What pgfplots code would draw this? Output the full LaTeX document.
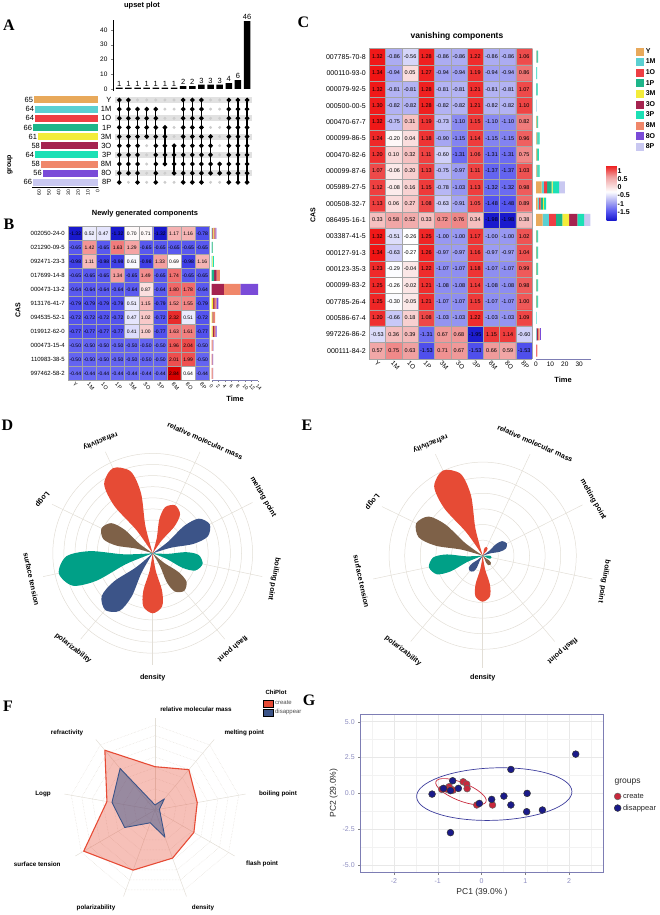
\documentclass[border=0pt]{standalone}
\usepackage{fontspec}
\setmainfont{Liberation Sans}
\newfontfamily\lserif{Liberation Serif}
\usepackage{pgfplots}
\usepackage{pgfplotstable}
\pgfplotsset{compat=1.18}
\usepgfplotslibrary{polar}
\pgfkeys{/pgf/number format/assume math mode=true}

\definecolor{gY}{RGB}{232,169,91}
\definecolor{g1M}{RGB}{91,208,210}
\definecolor{g1O}{RGB}{238,62,68}
\definecolor{g1P}{RGB}{29,181,138}
\definecolor{g3M}{RGB}{243,236,58}
\definecolor{g3O}{RGB}{165,35,79}
\definecolor{g3P}{RGB}{28,224,181}
\definecolor{g8M}{RGB}{240,135,106}
\definecolor{g8O}{RGB}{122,75,216}
\definecolor{g8P}{RGB}{201,200,241}
\definecolor{nred}{RGB}{230,75,53}
\definecolor{nblue}{RGB}{60,84,136}
\definecolor{ngreen}{RGB}{0,160,135}
\definecolor{nbrown}{RGB}{126,97,72}
\definecolor{ringc}{RGB}{226,222,214}
\definecolor{crim}{RGB}{200,40,60}
\definecolor{navy}{RGB}{26,26,138}
\definecolor{frame}{RGB}{125,125,180}
\definecolor{cellgrid}{RGB}{165,165,165}
\definecolor{stripe}{RGB}{225,225,225}

\newcommand\fs[1]{\fontsize{#1}{#1}\selectfont}
\newcommand\panel[1]{{\lserif\bfseries\fs{16}#1}}

\pgfplotsset{
  colormap={hmB}{rgb255(0cm)=(25,25,205) rgb255(4cm)=(70,70,235) rgb255(9cm)=(105,105,242) rgb255(20cm)=(255,255,255) rgb255(25cm)=(245,180,180) rgb255(31cm)=(240,110,110) rgb255(36cm)=(235,50,50) rgb255(42cm)=(215,0,0)},
  colormap={hmC}{rgb255(0cm)=(25,25,205) rgb255(5cm)=(85,85,240) rgb255(11cm)=(170,170,242) rgb255(17cm)=(255,255,255) rgb255(26cm)=(240,160,160) rgb255(31cm)=(238,60,60) rgb255(33cm)=(240,20,20)},
  hmheat/.style={scale only axis, enlargelimits=false, y dir=reverse,
    xmin=-0.5, xmax=9.5, xtick={0,...,9}, xticklabels={Y,1M,1O,1P,3M,3O,3P,8M,8O,8P},
    minor xtick={-0.5,0.5,...,9.5}, xminorgrids, yminorgrids,
    minor grid style={cellgrid, line width=0.5pt},
    major tick length=0pt, minor tick length=0pt, axis line style={draw=none}, axis on top,
    xticklabel style={rotate=-45, anchor=north west, inner sep=1pt}},
  hmcells/.style={matrix plot*, mesh/cols=10, point meta=explicit,
    nodes near coords={\pgfmathprintnumber[fixed,fixed zerofill,precision=2]{\pgfplotspointmeta}},
    every node near coord/.append style={anchor=center, font=\fs{#1}, black, inner sep=0pt}},
  sqlegend/.style={legend image code/.code={\fill[##1] (0pt,-4pt) rectangle (8pt,4pt);}},
  boxlegend/.style={legend image code/.code={\fill[##1] (0pt,-3.5pt) rectangle (10pt,3.5pt);}},
  setbar/.style={fill=#1, draw=none, bar shift=0pt},
  upcol/.style={black, line width=1.3pt, mark=*, mark size=1.6pt, forget plot},
  rose/.style={scale only axis, ymin=0, clip=false, axis line style={draw=none},
    xtick=\empty, ytick=\empty},
  spoke/.style={draw=ringc, line width=0.5pt, forget plot},
}

\pgfplotstableread{
r cY c1M c1O c1P c3M c3O c3P c8M c8O c8P
0 0 0.2 0.2 0 0.2 0.2 0 0.3 0.3 0
1 0 0.1 0 0.15 0.1 0 0 0 0 0
2 0 0.15 0 0 0.1 0 0.15 0.1 0 0.15
3 0 0 0 0.7 0 0.8 0 1.0 0 0
4 0 0 0 0 0 3.7 0 5.0 5.3 0
5 0 0 0 0 0.4 0.5 0 0.5 0.6 0
6 0 0 0 0 0.2 0.3 0 0.5 0 0
7 0 0 0 0 0.3 0.4 0 0.4 0.4 0
8 0 0 0 0 0 0 0 0.25 0.25 0
9 0 0 0 0 0 0 0 0.2 0.2 0
10 0 0 0 0 0 0 0 0.3 0.1 0
}\tblB

\pgfplotstableread{
r cY c1M c1O c1P c3M c3O c3P c8M c8O c8P
0 0.3 0.4 0 0.4 0 0 0.4 0 0 0
1 0 0.3 0 0 0 0 0.4 0 0 0
2 0 0.3 0 0.4 0 0 0.5 0 0 0
3 0 0.2 0 0 0 0 0 0 0 0.3
4 0.4 0 0 0.5 0 0 0.6 0 0 0
5 0.5 0.5 0 0.7 0 0 0.8 0 0 0
6 0.4 0 0 0.8 0 0 0.8 0 0 0
7 0.5 0.4 0 0.8 0 0 0.8 0 0 0
8 3.9 1.6 2.3 3.0 0.7 0 4.6 0 0 3.9
9 1.2 0.8 1.2 1.5 0.8 0 1.5 0 0 0
10 4.6 4.4 4.8 4.6 4.6 5.8 4.6 0 0 4.4
11 0.3 0 0 0.6 0 0 0.6 0 0 0
12 0.3 0 0 0.6 0 0 0.6 0 0 0
13 0.3 0 0 0.6 0 0 0.6 0 0 0
14 0.3 0 0 0.6 0 0 0.6 0 0 0
15 0.3 0 0 0.6 0 0 0.6 0 0 0
16 0 0.2 0 0 0 0 0.3 0 0 0
17 0 0.5 0 0 0 0.8 0 1.2 1.0 0
18 0 0 0.5 0 0 0 0 0.5 0 0
}\tblC

\begin{document}
\begin{tikzpicture}
\useasboundingbox (0,0) rectangle (660pt,-915pt);

% ---------------- A: upset plot ----------------
\begin{axis}[at={(113pt,-19.7pt)}, anchor=north west, scale only axis,
  width=140pt, height=71.5pt, xmin=0.31, xmax=15.65, ymin=-1.5, ymax=47,
  axis x line=none, axis y line*=left, ybar, bar width=6.6pt,
  ytick={0,10,...,40}, tick align=outside, major tick length=2pt,
  yticklabel style={font=\fs{6.5}}, clip=false,
  nodes near coords, every node near coord/.append style={font=\fs{7.5}, inner sep=1pt}]
\addplot[fill=black, draw=none, bar shift=0pt] coordinates {
  (1,1) (2,1) (3,1) (4,1) (5,1) (6,1) (7,1) (8,2) (9,2) (10,3) (11,3) (12,3) (13,4) (14,6) (15,46)};
\end{axis}

\begin{axis}[at={(32.3pt,-95.4pt)}, anchor=north west, scale only axis,
  width=65.4pt, height=91.5pt, xbar, bar width=7pt, x dir=reverse,
  xmin=0, xmax=67, ymin=0.5, ymax=10.5, y dir=reverse,
  axis y line=none, axis x line*=bottom, xtick={0,10,...,60},
  tick align=outside, major tick length=1.5pt,
  xticklabel style={rotate=90, anchor=east, font=\fs{5}, inner sep=1pt},
  clip=false, point meta=x, nodes near coords,
  every node near coord/.append style={anchor=east, font=\fs{7.5}, inner sep=1pt}]
\addplot[setbar=gY] coordinates {(65,1)};
\addplot[setbar=g1M] coordinates {(64,2)};
\addplot[setbar=g1O] coordinates {(64,3)};
\addplot[setbar=g1P] coordinates {(66,4)};
\addplot[setbar=g3M] coordinates {(61,5)};
\addplot[setbar=g3O] coordinates {(58,6)};
\addplot[setbar=g3P] coordinates {(64,7)};
\addplot[setbar=g8M] coordinates {(58,8)};
\addplot[setbar=g8O] coordinates {(56,9)};
\addplot[setbar=g8P] coordinates {(66,10)};
\end{axis}

\begin{axis}[at={(113pt,-95.4pt)}, anchor=north west, scale only axis,
  width=140pt, height=91.5pt, xmin=0.31, xmax=15.65, ymin=0.5, ymax=10.5, y dir=reverse,
  axis line style={draw=none}, xtick=\empty, ytick={1,...,10},
  yticklabels={Y,1M,1O,1P,3M,3O,3P,8M,8O,8P}, major tick length=0pt,
  yticklabel style={font=\fs{7.5}, inner sep=1.5pt}, clip=false]
\pgfplotsinvokeforeach{1,3,5,7,9}{
  \addplot[fill=stripe, draw=none, forget plot] coordinates {(0.53,#1-0.32) (15.53,#1-0.32) (15.53,#1+0.32) (0.53,#1+0.32)};}
\addplot[only marks, mark=*, mark size=1.3pt, color=black!20, forget plot] coordinates {
  (2,10) (3,1) (4,1) (4,6) (4,7) (4,8) (4,9) (4,10) (5,1)
  (6,1) (6,2) (6,3) (6,9) (6,10) (7,1) (7,2) (7,3) (7,4) (7,5) (7,10)
  (11,1) (11,2) (11,3) (11,4) (11,10)
  (12,1) (12,2) (12,3) (12,4) (12,5) (12,6) (12,7) (12,10)};
\pgfplotsinvokeforeach{1,8,9,10,13,14,15}{
  \addplot[upcol] coordinates {(#1,1) (#1,2) (#1,3) (#1,4) (#1,5) (#1,6) (#1,7) (#1,8) (#1,9) (#1,10)};}
\addplot[upcol] coordinates {(2,1) (2,2) (2,3) (2,4) (2,5) (2,6) (2,7) (2,8) (2,9)};
\addplot[upcol] coordinates {(3,2) (3,3) (3,4) (3,5) (3,6) (3,7) (3,8) (3,9) (3,10)};
\addplot[upcol] coordinates {(4,2) (4,3) (4,4) (4,5)};
\addplot[upcol] coordinates {(5,2) (5,3) (5,4) (5,5) (5,6) (5,7) (5,8) (5,9) (5,10)};
\addplot[upcol] coordinates {(6,4) (6,5) (6,6) (6,7) (6,8)};
\addplot[upcol] coordinates {(7,6) (7,7) (7,8) (7,9)};
\addplot[upcol] coordinates {(11,5) (11,6) (11,7) (11,8) (11,9)};
\addplot[upcol] coordinates {(12,8) (12,9)};
\end{axis}

% ---------------- B: newly generated ----------------
\begin{axis}[hmheat, at={(68.3pt,-226.3pt)}, anchor=north west,
  width=141pt, height=154.2pt, ymin=-0.5, ymax=10.5,
  minor ytick={-0.5,0.5,...,10.5},
  colormap name=hmB, point meta min=-1.32, point meta max=2.84,
  ytick={0,...,10},
  yticklabels={002050-24-0,021290-09-5,092471-23-3,017699-14-8,000473-13-2,913176-41-7,094535-52-1,019912-62-0,000473-15-4,110983-38-5,997462-58-2},
  yticklabel style={font=\fs{6}}, xticklabel style={font=\fs{5.5}}]
\addplot[hmcells=5] table[meta=v, row sep=\\] {
x y v\\
0 0 -1.32\\ 1 0 0.52\\ 2 0 0.47\\ 3 0 -1.32\\ 4 0 0.70\\ 5 0 0.71\\ 6 0 -1.32\\ 7 0 1.17\\ 8 0 1.16\\ 9 0 -0.78\\
0 1 -0.65\\ 1 1 1.42\\ 2 1 -0.65\\ 3 1 1.63\\ 4 1 1.29\\ 5 1 -0.65\\ 6 1 -0.65\\ 7 1 -0.65\\ 8 1 -0.65\\ 9 1 -0.65\\
0 2 -0.98\\ 1 2 1.11\\ 2 2 -0.98\\ 3 2 -0.98\\ 4 2 0.61\\ 5 2 -0.98\\ 6 2 1.33\\ 7 2 0.69\\ 8 2 -0.98\\ 9 2 1.16\\
0 3 -0.65\\ 1 3 -0.65\\ 2 3 -0.65\\ 3 3 1.34\\ 4 3 -0.65\\ 5 3 1.49\\ 6 3 -0.65\\ 7 3 1.74\\ 8 3 -0.65\\ 9 3 -0.65\\
0 4 -0.64\\ 1 4 -0.64\\ 2 4 -0.64\\ 3 4 -0.64\\ 4 4 -0.64\\ 5 4 0.87\\ 6 4 -0.64\\ 7 4 1.80\\ 8 4 1.78\\ 9 4 -0.64\\
0 5 -0.79\\ 1 5 -0.79\\ 2 5 -0.79\\ 3 5 -0.79\\ 4 5 0.51\\ 5 5 1.15\\ 6 5 -0.79\\ 7 5 1.52\\ 8 5 1.55\\ 9 5 -0.79\\
0 6 -0.72\\ 1 6 -0.72\\ 2 6 -0.72\\ 3 6 -0.72\\ 4 6 0.47\\ 5 6 1.02\\ 6 6 -0.72\\ 7 6 2.32\\ 8 6 0.51\\ 9 6 -0.72\\
0 7 -0.77\\ 1 7 -0.77\\ 2 7 -0.77\\ 3 7 -0.77\\ 4 7 0.41\\ 5 7 1.00\\ 6 7 -0.77\\ 7 7 1.63\\ 8 7 1.61\\ 9 7 -0.77\\
0 8 -0.50\\ 1 8 -0.50\\ 2 8 -0.50\\ 3 8 -0.50\\ 4 8 -0.50\\ 5 8 -0.50\\ 6 8 -0.50\\ 7 8 1.96\\ 8 8 2.04\\ 9 8 -0.50\\
0 9 -0.50\\ 1 9 -0.50\\ 2 9 -0.50\\ 3 9 -0.50\\ 4 9 -0.50\\ 5 9 -0.50\\ 6 9 -0.50\\ 7 9 2.01\\ 8 9 1.99\\ 9 9 -0.50\\
0 10 -0.44\\ 1 10 -0.44\\ 2 10 -0.44\\ 3 10 -0.44\\ 4 10 -0.44\\ 5 10 -0.44\\ 6 10 -0.44\\ 7 10 2.84\\ 8 10 0.64\\ 9 10 -0.44\\
};
\end{axis}

\begin{axis}[at={(211.7pt,-226.3pt)}, anchor=north west, scale only axis,
  width=46.3pt, height=154.2pt, xbar stacked, bar width=11pt,
  xmin=0, xmax=14, ymin=-0.5, ymax=10.5, y dir=reverse,
  axis y line=none, axis x line*=bottom, axis line style={frame},
  xtick={0,2,...,14}, ytick=\empty, tick align=outside, major tick length=1.5pt,
  xticklabel style={rotate=-45, anchor=north west, font=\fs{5}, inner sep=1pt}]
\addplot[fill=gY, draw=none] table[x=cY, y=r] {\tblB};
\addplot[fill=g1M, draw=none] table[x=c1M, y=r] {\tblB};
\addplot[fill=g1O, draw=none] table[x=c1O, y=r] {\tblB};
\addplot[fill=g1P, draw=none] table[x=c1P, y=r] {\tblB};
\addplot[fill=g3M, draw=none] table[x=c3M, y=r] {\tblB};
\addplot[fill=g3O, draw=none] table[x=c3O, y=r] {\tblB};
\addplot[fill=g3P, draw=none] table[x=c3P, y=r] {\tblB};
\addplot[fill=g8M, draw=none] table[x=c8M, y=r] {\tblB};
\addplot[fill=g8O, draw=none] table[x=c8O, y=r] {\tblB};
\addplot[fill=g8P, draw=none] table[x=c8P, y=r] {\tblB};
\end{axis}

% ---------------- C: vanishing ----------------
\begin{axis}[hmheat, at={(369.3pt,-48.5pt)}, anchor=north west,
  width=163pt, height=310.3pt, ymin=-0.5, ymax=18.5,
  minor ytick={-0.5,0.5,...,18.5},
  colormap name=hmC, point meta min=-1.98, point meta max=1.34,
  ytick={0,...,18},
  yticklabels={007785-70-8,000110-93-0,000079-92-5,000500-00-5,000470-67-7,000099-86-5,000470-82-6,000099-87-6,005989-27-5,000508-32-7,086495-16-1,003387-41-5,000127-91-3,000123-35-3,000099-83-2,007785-26-4,000586-67-4,997226-86-2,000111-84-2},
  yticklabel style={font=\fs{7}}, xticklabel style={font=\fs{6.5}},
  colorbar, colorbar style={at={(parent axis.north east)}, anchor=north west,
    xshift=65.7pt, yshift=-116.5pt, scale only axis, width=10pt, height=55pt,
    ytick={-1.5,-1,-0.5,0,0.5,1}, yticklabel style={font=\fs{7}\bfseries, inner sep=1pt},
    axis line style={draw=none}, major tick length=0pt}]
\addplot[hmcells=5.5] table[meta=v, row sep=\\] {
x y v\\
0 0 1.32\\ 1 0 -0.86\\ 2 0 -0.56\\ 3 0 1.28\\ 4 0 -0.86\\ 5 0 -0.86\\ 6 0 1.22\\ 7 0 -0.86\\ 8 0 -0.86\\ 9 0 1.06\\
0 1 1.34\\ 1 1 -0.94\\ 2 1 0.05\\ 3 1 1.27\\ 4 1 -0.94\\ 5 1 -0.94\\ 6 1 1.19\\ 7 1 -0.94\\ 8 1 -0.94\\ 9 1 0.86\\
0 2 1.32\\ 1 2 -0.81\\ 2 2 -0.81\\ 3 2 1.28\\ 4 2 -0.81\\ 5 2 -0.81\\ 6 2 1.21\\ 7 2 -0.81\\ 8 2 -0.81\\ 9 2 1.07\\
0 3 1.30\\ 1 3 -0.82\\ 2 3 -0.82\\ 3 3 1.28\\ 4 3 -0.82\\ 5 3 -0.82\\ 6 3 1.21\\ 7 3 -0.82\\ 8 3 -0.82\\ 9 3 1.10\\
0 4 1.32\\ 1 4 -0.75\\ 2 4 0.31\\ 3 4 1.19\\ 4 4 -0.73\\ 5 4 -1.10\\ 6 4 1.15\\ 7 4 -1.10\\ 8 4 -1.10\\ 9 4 0.82\\
0 5 1.24\\ 1 5 -0.20\\ 2 5 0.04\\ 3 5 1.18\\ 4 5 -0.90\\ 5 5 -1.15\\ 6 5 1.14\\ 7 5 -1.15\\ 8 5 -1.15\\ 9 5 0.96\\
0 6 1.20\\ 1 6 0.10\\ 2 6 0.32\\ 3 6 1.11\\ 4 6 -0.60\\ 5 6 -1.31\\ 6 6 1.06\\ 7 6 -1.31\\ 8 6 -1.31\\ 9 6 0.75\\
0 7 1.07\\ 1 7 -0.06\\ 2 7 0.20\\ 3 7 1.13\\ 4 7 -0.75\\ 5 7 -0.97\\ 6 7 1.11\\ 7 7 -1.37\\ 8 7 -1.37\\ 9 7 1.03\\
0 8 1.12\\ 1 8 -0.08\\ 2 8 0.16\\ 3 8 1.15\\ 4 8 -0.78\\ 5 8 -1.03\\ 6 8 1.13\\ 7 8 -1.32\\ 8 8 -1.32\\ 9 8 0.98\\
0 9 1.13\\ 1 9 0.06\\ 2 9 0.27\\ 3 9 1.08\\ 4 9 -0.63\\ 5 9 -0.91\\ 6 9 1.05\\ 7 9 -1.48\\ 8 9 -1.48\\ 9 9 0.89\\
0 10 0.33\\ 1 10 0.58\\ 2 10 0.52\\ 3 10 0.33\\ 4 10 0.72\\ 5 10 0.76\\ 6 10 0.34\\ 7 10 -1.98\\ 8 10 -1.98\\ 9 10 0.38\\
0 11 1.32\\ 1 11 -0.51\\ 2 11 -0.26\\ 3 11 1.25\\ 4 11 -1.00\\ 5 11 -1.00\\ 6 11 1.17\\ 7 11 -1.00\\ 8 11 -1.00\\ 9 11 1.02\\
0 12 1.34\\ 1 12 -0.63\\ 2 12 -0.27\\ 3 12 1.26\\ 4 12 -0.97\\ 5 12 -0.97\\ 6 12 1.16\\ 7 12 -0.97\\ 8 12 -0.97\\ 9 12 1.04\\
0 13 1.23\\ 1 13 -0.29\\ 2 13 -0.04\\ 3 13 1.22\\ 4 13 -1.07\\ 5 13 -1.07\\ 6 13 1.18\\ 7 13 -1.07\\ 8 13 -1.07\\ 9 13 0.99\\
0 14 1.25\\ 1 14 -0.26\\ 2 14 -0.02\\ 3 14 1.21\\ 4 14 -1.08\\ 5 14 -1.08\\ 6 14 1.14\\ 7 14 -1.08\\ 8 14 -1.08\\ 9 14 0.98\\
0 15 1.25\\ 1 15 -0.30\\ 2 15 -0.05\\ 3 15 1.21\\ 4 15 -1.07\\ 5 15 -1.07\\ 6 15 1.15\\ 7 15 -1.07\\ 8 15 -1.07\\ 9 15 1.00\\
0 16 1.20\\ 1 16 -0.66\\ 2 16 0.18\\ 3 16 1.08\\ 4 16 -1.03\\ 5 16 -1.03\\ 6 16 1.22\\ 7 16 -1.03\\ 8 16 -1.03\\ 9 16 1.09\\
0 17 -0.53\\ 1 17 0.36\\ 2 17 0.39\\ 3 17 -1.31\\ 4 17 0.67\\ 5 17 0.68\\ 6 17 -1.95\\ 7 17 1.15\\ 8 17 1.14\\ 9 17 -0.60\\
0 18 0.57\\ 1 18 0.75\\ 2 18 0.63\\ 3 18 -1.53\\ 4 18 0.71\\ 5 18 0.67\\ 6 18 -1.53\\ 7 18 0.66\\ 8 18 0.59\\ 9 18 -1.53\\
};
\end{axis}

\begin{axis}[at={(536pt,-48.5pt)}, anchor=north west, scale only axis,
  width=54.7pt, height=310.3pt, xbar stacked, bar width=12pt,
  xmin=0, xmax=38, ymin=-0.5, ymax=18.5, y dir=reverse,
  axis y line=none, axis x line*=bottom, axis line style={frame},
  xtick={0,10,20,30}, ytick=\empty, tick align=outside, major tick length=1.5pt,
  xticklabel style={font=\fs{6.5}, inner sep=1pt},
  legend style={at={(1.83,1.005)}, anchor=north west, draw=none, fill=none,
    font=\fs{7}\bfseries, row sep=1.2pt, inner sep=0pt, nodes={inner sep=1.5pt}},
  legend cell align=left]
\addplot[fill=gY, draw=none, sqlegend] table[x=cY, y=r] {\tblC};
\addplot[fill=g1M, draw=none, sqlegend] table[x=c1M, y=r] {\tblC};
\addplot[fill=g1O, draw=none, sqlegend] table[x=c1O, y=r] {\tblC};
\addplot[fill=g1P, draw=none, sqlegend] table[x=c1P, y=r] {\tblC};
\addplot[fill=g3M, draw=none, sqlegend] table[x=c3M, y=r] {\tblC};
\addplot[fill=g3O, draw=none, sqlegend] table[x=c3O, y=r] {\tblC};
\addplot[fill=g3P, draw=none, sqlegend] table[x=c3P, y=r] {\tblC};
\addplot[fill=g8M, draw=none, sqlegend] table[x=c8M, y=r] {\tblC};
\addplot[fill=g8O, draw=none, sqlegend] table[x=c8O, y=r] {\tblC};
\addplot[fill=g8P, draw=none, sqlegend] table[x=c8P, y=r] {\tblC};
\legend{Y,1M,1O,1P,3M,3O,3P,8M,8O,8P}
\end{axis}

% ---------------- D: rose ----------------
\begin{polaraxis}[rose, at={(152.7pt,-553.3pt)}, anchor=center,
  width=224pt, height=224pt, ymax=112]
\pgfplotsinvokeforeach{11.1,22.2,33.3,44.4,55.5,66.6,77.7,88.8,99.9}{
  \draw[ringc, line width=0.5pt] (axis cs:0,0) circle [radius=#1pt];}
\pgfplotsinvokeforeach{115,65,27,348,310,270,230,192,154}{
  \addplot[spoke] coordinates {(#1,0) (#1,112)};}
\addplot[fill=nred, draw=none, smooth] coordinates {(115,0) (105,28.2) (101,61.1) (105,84.6) (115,94) (125,84.6) (129,61.1) (125,28.2) (115,0)};
\addplot[fill=nred, draw=none, smooth] coordinates {(65,0) (55,15.9) (51,34.5) (55,47.7) (65,53) (75,47.7) (79,34.5) (75,15.9) (65,0)};
\addplot[fill=nblue, draw=none, smooth] coordinates {(27,0) (17,19.2) (13,41.6) (17,57.6) (27,64) (37,57.6) (41,41.6) (37,19.2) (27,0)};
\addplot[fill=ngreen, draw=none, smooth] coordinates {(348,0) (338,15.3) (334,33.2) (338,45.9) (348,51) (358,45.9) (362,33.2) (358,15.3) (348,0)};
\addplot[fill=nbrown, draw=none, smooth] coordinates {(310,0) (300,14.7) (296,31.9) (300,44.1) (310,49) (320,44.1) (324,31.9) (320,14.7) (310,0)};
\addplot[fill=nred, draw=none, smooth] coordinates {(270,0) (260,18) (256,39) (260,54) (270,60) (280,54) (284,39) (280,18) (270,0)};
\addplot[fill=nblue, draw=none, smooth] coordinates {(230,0) (220,22.2) (216,48.1) (220,66.6) (230,74) (240,66.6) (244,48.1) (240,22.2) (230,0)};
\addplot[fill=ngreen, draw=none, smooth] coordinates {(192,0) (182,28.8) (178,62.4) (182,86.4) (192,96) (202,86.4) (206,62.4) (202,28.8) (192,0)};
\addplot[fill=nbrown, draw=none, smooth] coordinates {(154,0) (144,17.1) (140,37.1) (144,51.3) (154,57) (164,51.3) (168,37.1) (164,17.1) (154,0)};
\begin{scope}[every node/.style={font=\fs{7.2}\bfseries}]
\node[rotate=-24] at (axis cs:65,124) {relative molecular mass};
\node[rotate=-60] at (axis cs:27,124) {melting point};
\node[rotate=-100] at (axis cs:348,124) {boiling point};
\node[rotate=220] at (axis cs:310,124) {flash point};
\node at (axis cs:270,124) {density};
\node[rotate=-38] at (axis cs:230,124) {polarizability};
\node[rotate=-78] at (axis cs:192,124) {surface tension};
\node[rotate=230] at (axis cs:154,123) {Logp};
\node[rotate=203] at (axis cs:115,124) {refractivity};
\end{scope}
\end{polaraxis}

% ---------------- E: rose ----------------
\begin{polaraxis}[rose, at={(482.7pt,-555.7pt)}, anchor=center,
  width=224pt, height=224pt, ymax=112]
\pgfplotsinvokeforeach{15.6,31.2,46.8,62.4,78,93.6}{
  \draw[ringc, line width=0.5pt] (axis cs:0,0) circle [radius=#1pt];}
\pgfplotsinvokeforeach{115,65,27,348,310,270,230,192,154}{
  \addplot[spoke] coordinates {(#1,0) (#1,112)};}
\addplot[fill=nred, draw=none, smooth] coordinates {(115,0) (105,28.2) (101,61.1) (105,84.6) (115,94) (125,84.6) (129,61.1) (125,28.2) (115,0)};
\addplot[fill=nred, draw=none, smooth] coordinates {(65,0) (55,2.9) (51,6.2) (55,8.6) (65,9.5) (75,8.6) (79,6.2) (75,2.9) (65,0)};
\addplot[fill=nblue, draw=none, smooth] coordinates {(27,0) (17,8.1) (13,17.6) (17,24.3) (27,27) (37,24.3) (41,17.6) (37,8.1) (27,0)};
\addplot[fill=ngreen, draw=none, smooth] coordinates {(348,0) (338,2.7) (334,5.9) (338,8.1) (348,9) (358,8.1) (362,5.9) (358,2.7) (348,0)};
\addplot[fill=nbrown, draw=none, smooth] coordinates {(310,0) (300,3.6) (296,7.8) (300,10.8) (310,12) (320,10.8) (324,7.8) (320,3.6) (310,0)};
\addplot[fill=nred, draw=none, smooth] coordinates {(270,0) (260,13.8) (256,29.9) (260,41.4) (270,46) (280,41.4) (284,29.9) (280,13.8) (270,0)};
\addplot[fill=nblue, draw=none, smooth] coordinates {(230,0) (220,6) (216,13) (220,18) (230,20) (240,18) (244,13) (240,6) (230,0)};
\addplot[fill=ngreen, draw=none, smooth] coordinates {(192,0) (182,16.5) (178,35.8) (182,49.5) (192,55) (202,49.5) (206,35.8) (202,16.5) (192,0)};
\addplot[fill=nbrown, draw=none, smooth] coordinates {(154,0) (144,22.2) (140,48.1) (144,66.6) (154,74) (164,66.6) (168,48.1) (164,22.2) (154,0)};
\begin{scope}[every node/.style={font=\fs{7.2}\bfseries}]
\node[rotate=-24] at (axis cs:65,124) {relative molecular mass};
\node[rotate=-60] at (axis cs:27,124) {melting point};
\node[rotate=-100] at (axis cs:348,124) {boiling point};
\node[rotate=220] at (axis cs:310,124) {flash point};
\node at (axis cs:270,121.5) {density};
\node[rotate=-38] at (axis cs:230,124) {polarizability};
\node[rotate=-78] at (axis cs:192,124) {surface tension};
\node[rotate=230] at (axis cs:154,123) {Logp};
\node[rotate=203] at (axis cs:115,124) {refractivity};
\end{scope}
\end{polaraxis}

% ---------------- F: radar ----------------
\begin{polaraxis}[rose, at={(155pt,-810pt)}, anchor=center,
  width=184pt, height=184pt, ymax=92,
  legend style={at={(1.087,1.103)}, anchor=north west, draw=none, fill=none,
    font=\fs{6}, text=black!70, row sep=0.5pt, inner sep=0pt, nodes={inner sep=1.5pt}},
  legend cell align=left]
\pgfplotsinvokeforeach{90,50,10,330,290,250,210,170,130}{
  \addplot[spoke] coordinates {(#1,0) (#1,92)};}
\pgfplotsinvokeforeach{10.6,21.3,31.9,42.5,53.1,63.8,74.4,85}{
  \addplot[draw=ringc, densely dotted, line width=0.5pt, forget plot] coordinates {(90,#1) (50,#1) (10,#1) (330,#1) (290,#1) (250,#1) (210,#1) (170,#1) (130,#1) (90,#1)};}
\addplot[fill=nred, fill opacity=0.35, draw=nred, line width=1.1pt, line join=round, forget plot] coordinates {
  (90,43.3) (50,52.7) (10,42.9) (330,44.9) (290,51.2) (250,64) (210,82.3) (170,48.8) (130,78) (90,43.3)};
\addplot[fill=nblue, fill opacity=0.5, draw=nblue, line width=0.9pt, line join=round, forget plot] coordinates {
  (90,5) (50,14.6) (10,4.5) (330,6) (290,28.9) (250,13.6) (210,35) (170,43.7) (130,54.3) (90,5)};
\addlegendimage{boxlegend, fill=nred}
\addlegendentry{create}
\addlegendimage{boxlegend, fill=nblue}
\addlegendentry{disappear}
\end{polaraxis}

% ---------------- G: PCA ----------------
\begin{axis}[at={(360.7pt,-714pt)}, anchor=north west, scale only axis,
  width=242.6pt, height=158.3pt, xmin=-2.76, xmax=2.78, ymin=-5.51, ymax=5.54,
  xtick={-2,-1,0,1,2}, ytick={-5,-2.5,0,2.5,5},
  minor xtick={-2.5,-1.5,-0.5,0.5,1.5,2.5}, minor ytick={-3.75,-1.25,1.25,3.75},
  grid=both, major grid style={black!9, line width=0.5pt}, minor grid style={black!5, line width=0.4pt},
  axis line style={frame, line width=0.8pt}, tick align=outside, tick pos=left,
  major tick length=2.5pt, minor tick length=0pt, tick style={black!50},
  ticklabel style={font=\fs{7}, text=black!55!blue!45!white},
  yticklabel style={/pgf/number format/.cd, fixed, fixed zerofill, precision=1},
  xlabel={PC1 (39.0\% )}, ylabel={PC2 (29.0\%)},
  label style={font=\fs{8.5}, text=black!85},
  xlabel style={yshift=2pt}, ylabel style={yshift=-2pt},
  legend style={at={(1.032,0.526)}, anchor=north west, draw=none, fill=none,
    font=\fs{7.5}, text=black!85, row sep=1pt},
  legend cell align=left]
\addplot[only marks, mark=*, mark size=3.4pt, mark options={fill=crim, draw=black!60, line width=0.5pt}] coordinates {
  (-0.42,0.81) (-0.34,0.65) (-0.33,0.33) (-0.74,0.47) (-0.91,0.28) (-0.80,0.30) (-0.65,0.23) (-0.11,-0.81) (0.25,-0.81)};
\addlegendentry{create}
\addplot[only marks, mark=*, mark size=3.4pt, mark options={fill=navy, draw=black!80, line width=0.5pt}] coordinates {
  (-1.13,-0.05) (-0.87,0.35) (-0.66,0.88) (-0.71,0.19) (-0.53,0.35) (-0.05,-0.70) (0.23,-0.42) (0.51,-0.19)
  (0.67,1.67) (0.67,-0.81) (1.04,0.0) (1.03,-1.28) (1.39,-1.16) (2.15,2.74) (-0.71,-2.74)};
\addlegendentry{disappear}
\draw[navy!85, line width=0.7pt, rotate around={2:(axis cs:0.29,-0.05)}] (axis cs:0.29,-0.05) ellipse [x radius=77.7pt, y radius=26.2pt];
\draw[crim, line width=0.7pt, rotate around={-22:(axis cs:-0.47,0.12)}] (axis cs:-0.47,0.12) ellipse [x radius=27pt, y radius=9pt];
\end{axis}

% ---------------- texts ----------------
\node[font=\fs{7.5}\bfseries] at (142pt,-6pt) {upset plot};
\node[font=\fs{7}\bfseries, rotate=90] at (10pt,-165pt) {group};
\node[font=\fs{7.5}\bfseries] at (145pt,-214pt) {Newly generated components};
\node[font=\fs{7}\bfseries, rotate=90] at (18pt,-310pt) {CAS};
\node[font=\fs{7.5}\bfseries] at (235pt,-399pt) {Time};
\node[font=\fs{8.5}\bfseries] at (457pt,-36pt) {vanishing components};
\node[font=\fs{7}\bfseries, rotate=90] at (313pt,-215pt) {CAS};
\node[font=\fs{7.5}\bfseries] at (563pt,-380pt) {Time};
\node[font=\fs{6}\bfseries, anchor=west] at (262pt,-692pt) {ChiPlot};
\node[font=\fs{8.5}, text=black!85, anchor=west] at (611pt,-782pt) {groups};
\begin{scope}[every node/.style={font=\fs{6.3}\bfseries}]
\node at (196pt,-709pt) {relative molecular mass};
\node[anchor=west] at (221pt,-733pt) {melting point};
\node at (278pt,-794pt) {boiling point};
\node[anchor=west] at (242.7pt,-864pt) {flash point};
\node at (203pt,-908pt) {density};
\node at (96pt,-908pt) {polarizability};
\node[anchor=east] at (64pt,-864pt) {surface tension};
\node at (43pt,-794pt) {Logp};
\node[anchor=east] at (86.7pt,-733pt) {refractivity};
\end{scope}
\node at (9pt,-25pt) {\panel{A}};
\node at (9pt,-224pt) {\panel{B}};
\node at (303.5pt,-22.5pt) {\panel{C}};
\node at (7.5pt,-425pt) {\panel{D}};
\node at (307pt,-425pt) {\panel{E}};
\node at (8pt,-706pt) {\panel{F}};
\node at (309pt,-700pt) {\panel{G}};
\end{tikzpicture}
\end{document}
